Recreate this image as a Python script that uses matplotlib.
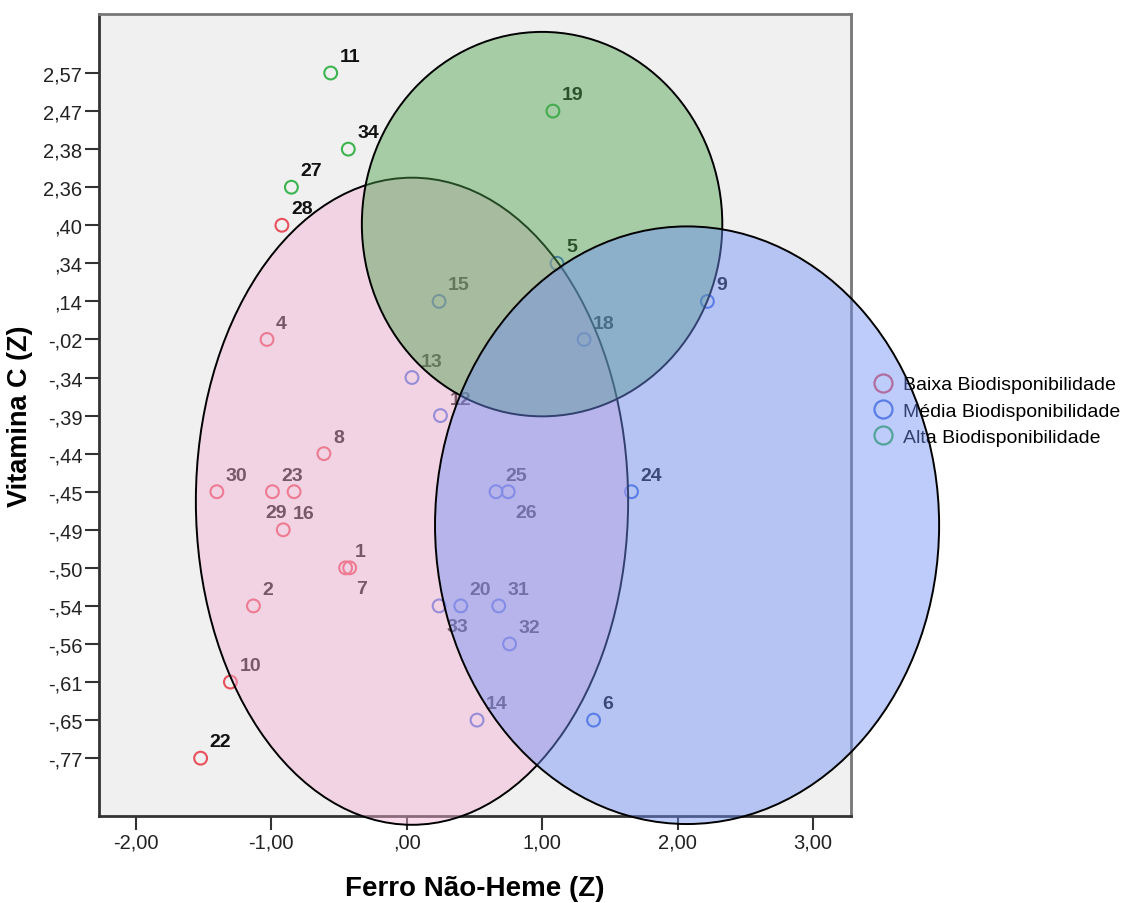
import matplotlib
matplotlib.use("Agg")
import matplotlib.pyplot as plt
from matplotlib.patches import Ellipse
from matplotlib.lines import Line2D

plt.rcParams['font.family'] = ['Liberation Sans', 'DejaVu Sans']

# ordinal levels of Vitamina C (Z) as shown on the y axis
vitc_levels = [-0.77, -0.65, -0.61, -0.56, -0.54, -0.50, -0.49, -0.45, -0.44, -0.39,
               -0.34, -0.02, 0.14, 0.34, 0.40, 2.36, 2.38, 2.47, 2.57]
ferro_ticks = [-2, -1, 0, 1, 2, 3]

baixa_id = [28, 4, 8, 30, 23, 29, 16, 1, 7, 2, 10, 22]
baixa_ferro = [-0.92, -1.03, -0.61, -1.40, -0.99, -0.83, -0.91, -0.45, -0.42, -1.13, -1.30, -1.52]
baixa_vitc = [0.40, -0.02, -0.44, -0.45, -0.45, -0.45, -0.49, -0.50, -0.50, -0.54, -0.61, -0.77]

media_id = [15, 5, 9, 18, 13, 12, 25, 26, 24, 33, 20, 31, 32, 14, 6]
media_ferro = [0.24, 1.11, 2.22, 1.31, 0.04, 0.25, 0.66, 0.75, 1.66, 0.24, 0.40, 0.68, 0.76, 0.52, 1.38]
media_vitc = [0.14, 0.34, 0.14, -0.02, -0.34, -0.39, -0.45, -0.45, -0.45, -0.54, -0.54, -0.54, -0.56, -0.65, -0.65]

alta_id = [11, 34, 27, 19]
alta_ferro = [-0.56, -0.43, -0.85, 1.08]
alta_vitc = [2.57, 2.38, 2.36, 2.47]

groups = ['Baixa Biodisponibilidade', 'Média Biodisponibilidade', 'Alta Biodisponibilidade']
colors = ['#E8505C', '#4A6FDC', '#3CB44F']

# hand drawn regions: (center x, center level, width, height, fill)
regions = [
    (0.04, 6.75, 3.19, 17.0, (0.96, 0.69, 0.83, 0.45)),
    (1.00, 14.03, 2.66, 10.1, (0.30, 0.63, 0.30, 0.45)),
    (2.07, 6.12, 3.72, 15.7, (0.43, 0.56, 0.96, 0.45)),
]

# label placement exceptions (default upper right)
label_pos = {7: 'lr', 26: 'lr', 33: 'lr', 29: 'll'}
offsets = {'ur': (6.5, 8.6, 'left'), 'lr': (5, -18, 'left'), 'll': (-5.5, -18, 'right')}


def spss(v):
    s = f"{v:.2f}"
    if abs(v) < 1:
        s = s.replace("0.", ".", 1)
    return s.replace(".", ",")


fig = plt.figure(figsize=(11.26, 9.04), dpi=100)
ax = fig.add_axes([0.0879, 0.0962, 0.6679, 0.8872])
ax.set_facecolor('#F0F0F0')

data = [(baixa_id, baixa_ferro, baixa_vitc), (media_id, media_ferro, media_vitc),
        (alta_id, alta_ferro, alta_vitc)]
for (ids, xs, ys), c in zip(data, colors):
    yy = [vitc_levels.index(v) for v in ys]
    ax.scatter(xs, yy, s=85, facecolors='none', edgecolors=c, linewidths=1.5, zorder=2)
    for i, x, y in zip(ids, xs, yy):
        dx, dy, ha = offsets[label_pos.get(i, 'ur')]
        ax.annotate(str(i), (x, y), xytext=(dx, dy), textcoords='offset points',
                    ha=ha, va='baseline', fontsize=14, fontweight='bold',
                    color='#111111', zorder=3)

for cx, cy, w, h, fc in regions:
    ax.add_patch(Ellipse((cx, cy), w, h, facecolor=fc, edgecolor='black',
                         linewidth=1.4, zorder=6, clip_on=False))

ax.set_xlim(-2.27, 3.28)
ax.set_ylim(-1.52, 19.55)
ax.set_xticks(ferro_ticks)
ax.set_xticklabels([spss(v) for v in ferro_ticks])
ax.set_yticks(range(len(vitc_levels)))
ax.set_yticklabels([spss(v) for v in vitc_levels])
ax.tick_params(direction='out', length=10, width=1.5, labelsize=14.5, pad=2,
               colors='#333333', labelcolor='#222222')

for side in ['left', 'bottom']:
    ax.spines[side].set_color('#333333')
    ax.spines[side].set_linewidth(2)
for side in ['top', 'right']:
    ax.spines[side].set_color('#777777')
    ax.spines[side].set_linewidth(2)

ax.set_xlabel('Ferro Não-Heme (Z)', fontsize=20, fontweight='bold', labelpad=17)
ax.set_ylabel('Vitamina C (Z)', fontsize=19.5, fontweight='bold')
ax.yaxis.set_label_coords(-0.088, 0.5)

handles = [Line2D([], [], linestyle='none', marker='o', markersize=13,
                  markerfacecolor='none', markeredgecolor=c, markeredgewidth=1.6)
           for c in colors]
leg = ax.legend(handles, groups, loc='center left', bbox_to_anchor=(1.03, 0.505),
                frameon=False, fontsize=14, handlelength=1.0, handletextpad=0.5,
                labelspacing=0.45, borderpad=0, borderaxespad=0)
leg.set_zorder(5)

fig.savefig('out.png', dpi=100)
